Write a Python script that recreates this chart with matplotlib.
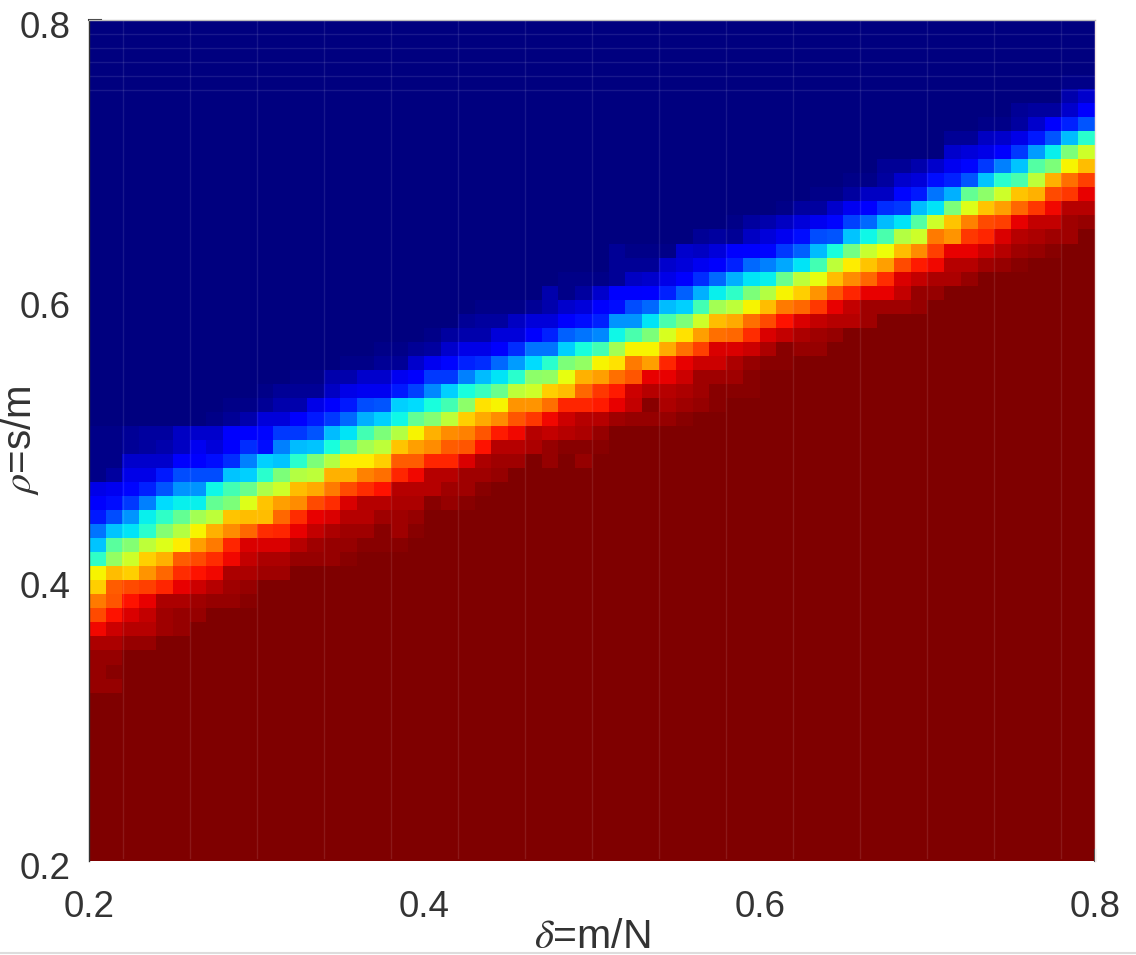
import numpy as np
import matplotlib
matplotlib.use('Agg')
import matplotlib.pyplot as plt
from matplotlib.lines import Line2D
from matplotlib.transforms import ScaledTranslation

plt.rcParams['font.family'] = ['Liberation Sans', 'DejaVu Sans']
plt.rcParams['mathtext.fontset'] = 'stix'

# success rate in percent
# each row of the grid counts from the top: blank before first_col, full after the list
n_cells = 60
first_row = 4
first_col = [58, 58, 55, 53, 51, 51, 47, 45, 43, 41, 38, 36, 31, 31, 28, 27, 23, 22, 20, 17,
             15, 12, 10, 8, 7, 0, 0, 0, 0, 0, 0, 0, 0, 0, 0, 0, 0, 0, 0, 0, 0, 0, 0, 0]
row_04 = [1, 1]
row_05 = [4, 7]
row_06 = [2, 3, 3, 7, 11]
row_07 = [1, 1, 3, 7, 11, 16, 21]
row_08 = [2, 2, 6, 7, 9, 15, 21, 31, 40]
row_09 = [7, 8, 9, 11, 18, 28, 36, 50, 60]
row_10 = [2, 2, 4, 7, 10, 13, 18, 25, 32, 45, 50, 65, 71]
row_11 = [1, 1, 3, 7, 8, 14, 16, 21, 32, 40, 44, 58, 72, 79, 84]
row_12 = [1, 1, 3, 6, 6, 13, 15, 24, 30, 47, 52, 60, 70, 72, 83, 85, 91]
row_13 = [1, 3, 3, 7, 10, 12, 17, 18, 31, 35, 50, 62, 70, 74, 80, 85, 90, 95, 95]
row_14 = [1, 3, 4, 6, 8, 10, 13, 19, 23, 31, 35, 45, 60, 70, 77, 83, 84, 91, 94, 94, 97, 98]
row_15 = [2, 3, 2, 6, 8, 10, 14, 20, 21, 32, 37, 44, 57, 60, 78, 75, 85, 87, 92, 95, 96, 97, 97, 100]
row_16 = [2, 1, 1, 1, 7, 6, 8, 11, 12, 13, 18, 22, 31, 38, 49, 59, 64, 71, 76, 84, 91, 91, 93, 95, 97, 98, 99]
row_17 = [2, 2, 2, 7, 8, 10, 11, 16, 23, 25, 29, 35, 43, 58, 66, 70, 74, 83, 88, 90, 95, 95, 97, 98, 99]
row_18 = [1, 1, 1, 2, 6, 7, 9, 11, 17, 23, 30, 35, 36, 48, 58, 63, 71, 76, 80, 86, 92, 94, 96, 96, 98]
row_19 = [4, 1, 3, 7, 11, 11, 12, 16, 22, 30, 36, 41, 50, 57, 65, 69, 75, 82, 87, 91, 91, 94, 98, 98]
row_20 = [1, 1, 1, 2, 4, 7, 8, 11, 14, 20, 23, 31, 33, 43, 55, 58, 65, 71, 78, 80, 85, 91, 94, 97, 97, 97, 98]
row_21 = [2, 3, 3, 6, 8, 8, 11, 14, 16, 27, 27, 35, 44, 50, 60, 71, 73, 79, 83, 89, 92, 94, 95, 95, 97]
row_22 = [1, 3, 4, 4, 8, 8, 11, 16, 22, 24, 26, 37, 44, 50, 61, 67, 74, 79, 80, 86, 92, 94, 96, 97, 98]
row_23 = [1, 1, 2, 3, 7, 9, 9, 11, 17, 24, 24, 33, 38, 43, 55, 65, 65, 73, 79, 84, 92, 92, 93, 96, 99, 98, 98]
row_24 = [1, 1, 2, 2, 7, 10, 13, 16, 17, 23, 28, 34, 40, 50, 53, 65, 67, 78, 74, 87, 91, 93, 93, 96, 98, 99, 99]
row_25 = [1, 1, 4, 4, 7, 7, 10, 11, 18, 18, 25, 31, 35, 40, 52, 53, 63, 72, 74, 79, 82, 91, 91, 93, 97, 97, 97, 99]
row_26 = [1, 2, 2, 2, 6, 9, 10, 10, 15, 19, 26, 33, 38, 42, 48, 58, 60, 69, 71, 80, 85, 88, 93, 95, 95, 96, 97, 99, 99, 99]
row_27 = [1, 1, 2, 4, 4, 9, 11, 15, 20, 21, 33, 34, 38, 43, 52, 67, 65, 75, 75, 79, 87, 87, 88, 91, 94, 99, 96, 97, 98, 99]
row_28 = [1, 2, 4, 8, 8, 11, 15, 18, 23, 30, 33, 37, 47, 51, 58, 69, 73, 76, 82, 85, 90, 93, 95, 95, 97, 98, 98, 98, 99]
row_29 = [1, 1, 2, 3, 3, 6, 7, 7, 11, 11, 13, 18, 18, 21, 31, 35, 43, 50, 57, 65, 72, 76, 77, 82, 88, 90, 95, 94, 95, 96, 98]
row_30 = [1, 1, 2, 3, 4, 6, 10, 8, 11, 17, 14, 25, 31, 32, 38, 48, 55, 58, 70, 74, 76, 81, 82, 89, 95, 95, 96, 98, 99, 99, 99]
row_31 = [1, 1, 7, 7, 7, 11, 12, 14, 17, 25, 33, 32, 40, 50, 57, 66, 66, 69, 81, 81, 87, 87, 92, 96, 97, 97, 100, 98, 100, 98]
row_32 = [1, 3, 9, 9, 15, 20, 20, 20, 32, 33, 40, 50, 57, 58, 72, 72, 77, 79, 87, 90, 95, 95, 97, 97, 98]
row_33 = [9, 10, 13, 16, 21, 27, 27, 37, 43, 48, 56, 60, 71, 73, 78, 83, 86, 89, 95, 95, 95, 97, 97, 99]
row_34 = [11, 14, 18, 25, 34, 36, 36, 47, 50, 62, 70, 74, 76, 83, 86, 92, 95, 95, 96, 96, 99, 98, 99]
row_35 = [15, 20, 27, 36, 41, 47, 55, 58, 70, 71, 71, 80, 86, 91, 92, 95, 95, 97, 97, 98]
row_36 = [24, 32, 35, 40, 51, 57, 65, 72, 76, 80, 86, 87, 91, 94, 96, 97, 97, 99, 97, 99]
row_37 = [32, 46, 51, 58, 62, 66, 74, 78, 87, 92, 92, 92, 95, 97, 98, 98, 99, 99, 99]
row_38 = [41, 53, 60, 69, 72, 81, 83, 86, 90, 94, 96, 96, 98, 98, 98, 99]
row_39 = [65, 71, 69, 75, 80, 86, 89, 90, 96, 96, 97, 97]
row_40 = [69, 81, 83, 84, 87, 91, 93, 95, 97, 98]
row_41 = [78, 82, 89, 91, 96, 96, 97, 98, 98, 99]
row_42 = [83, 89, 92, 94, 97, 98, 98]
row_43 = [90, 93, 95, 95, 97, 98]
row_44 = [96, 96, 98, 98]
row_45 = [98, 98]
row_46 = [98, 99]
row_47 = [98, 98]

band_rows = [row_04, row_05, row_06, row_07, row_08, row_09, row_10, row_11, row_12, row_13,
             row_14, row_15, row_16, row_17, row_18, row_19, row_20, row_21, row_22, row_23,
             row_24, row_25, row_26, row_27, row_28, row_29, row_30, row_31, row_32, row_33,
             row_34, row_35, row_36, row_37, row_38, row_39, row_40, row_41, row_42, row_43,
             row_44, row_45, row_46, row_47]

ticks = [0.2, 0.4, 0.6, 0.8]
tick_labels = ['0.2', '0.4', '0.6', '0.8']
faint_delta = [0.22, 0.26, 0.30, 0.34, 0.38, 0.42, 0.46, 0.50, 0.54, 0.58, 0.62, 0.66, 0.70, 0.74, 0.78]
faint_rho = [0.79, 0.78, 0.77, 0.76, 0.75]

# build the grid, top row first
grid = np.zeros((n_cells, n_cells))
grid[first_row + len(band_rows):, :] = 100
for i, values in enumerate(band_rows):
    r = first_row + i
    start = first_col[i]
    grid[r, start:start + len(values)] = values
    grid[r, start + len(values):] = 100

fig = plt.figure(figsize=(11.36, 9.55), dpi=100)
ax = fig.add_axes([89 / 1136, 1 - 861 / 955, 1006 / 1136, 841 / 955])
ax.imshow(grid, cmap='jet', vmin=0, vmax=100, origin='upper', aspect='auto',
          interpolation='nearest', extent=[0.2, 0.8, 0.2, 0.8])

# thin light seams that run through the image
for d in faint_delta:
    ax.plot([d, d], [0.202, 0.8], color='white', alpha=0.1, lw=1)
for r in faint_rho:
    ax.plot([0.2, 0.8], [r, r], color='white', alpha=0.1, lw=1)

ax.set_xlim(0.2, 0.8)
ax.set_ylim(0.2, 0.8)
ax.set_xticks(ticks)
ax.set_yticks(ticks)
ax.set_xticklabels(tick_labels)
ax.set_yticklabels(tick_labels)
ax.tick_params(axis='both', length=0, labelsize=26.5, labelcolor='#333333')
ax.tick_params(axis='x', pad=21)
ax.tick_params(axis='y', pad=13)

# y labels sit a little below their grid position
shift = ScaledTranslation(0, -4 / 100, fig.dpi_scale_trans)
for label in ax.get_yticklabels():
    label.set_transform(label.get_transform() + shift)

ax.set_xlabel(r'$\delta$=m/N', fontsize=29.5, color='#333333')
ax.xaxis.set_label_coords(0.5, -57 / 841)
ax.set_ylabel(r'$\rho$=s/m', fontsize=29, color='#333333')
ax.yaxis.set_label_coords(-48 / 1006, 0.5)

ax.spines['bottom'].set_visible(False)
ax.spines['left'].set_color('#333333')
ax.spines['left'].set_linewidth(1)
ax.spines['top'].set_color('#bbbbbb')
ax.spines['top'].set_linewidth(1)
ax.spines['right'].set_color('#f3e4e0')
ax.spines['right'].set_linewidth(1)

# the only bits of tick marks that show past the image
ax.plot([0.2, 0.207], [0.8, 0.8], color='#333333', lw=1.5, clip_on=False)
ax.plot([0.8, 0.8], [0.2, 0.208], color='#333333', lw=1.5, clip_on=False)

fig.add_artist(Line2D([0, 1], [1 - 953 / 955, 1 - 953 / 955], color='#dddddd', lw=1.5))

fig.savefig('out.png', dpi=100)
